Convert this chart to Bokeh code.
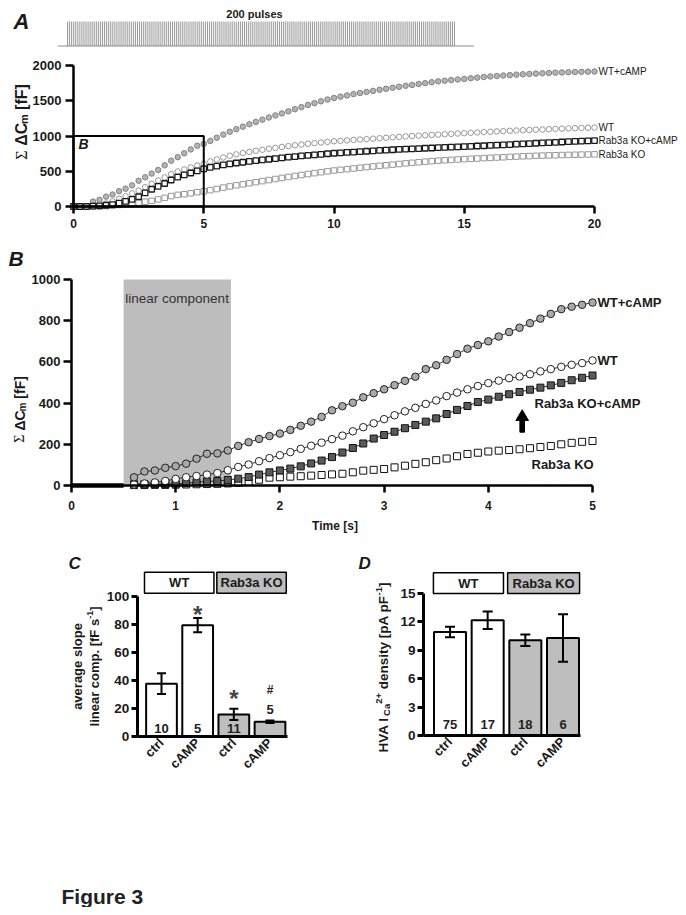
import math
import numpy as np
from bokeh.plotting import figure
from bokeh.models import Range1d, LinearAxis, FixedTicker, ColumnDataSource, Whisker, TeeHead, Spacer
from bokeh.layouts import column, row
from bokeh.embed import file_html
from bokeh.resources import INLINE
from bokeh.core.properties import value

FONT = "Liberation Sans"

# ---------------- data ----------------
n_pulses = 200
pulse_pad = (5, 10)

series_names = ["WT+cAMP", "WT", "Rab3a KO+cAMP", "Rab3a KO"]

# Panel A: cumulative capacitance, sampled every 0.25 s (0..20 s)
t_a = np.round(np.arange(0, 20.001, 0.25), 2)
a_wt_camp = [0, 0, 0, 70, 94, 140, 170, 218, 252, 300, 365, 415, 467, 518, 584, 650, 700, 755, 810, 862, 888,
             930, 975, 1020, 1060, 1097, 1132, 1167, 1200, 1232, 1262, 1292, 1320, 1350, 1380, 1410, 1440, 1466, 1492, 1517, 1540,
             1558, 1576, 1594, 1610, 1625, 1640, 1655, 1670, 1684, 1698, 1712, 1725, 1738, 1750, 1763, 1775, 1784, 1793, 1802, 1810,
             1819, 1828, 1837, 1845, 1851, 1858, 1864, 1870, 1875, 1880, 1885, 1890, 1894, 1898, 1901, 1905, 1908, 1910, 1913, 1915]
a_wt = [0, 0, 0, 12, 32, 43, 74, 110, 147, 186, 225, 273, 322, 368, 413, 459, 497, 525, 554, 581, 607,
        640, 668, 695, 720, 740, 758, 775, 790, 805, 819, 832, 845, 857, 868, 879, 890, 899, 908, 917, 925,
        931, 938, 944, 950, 956, 962, 969, 975, 981, 988, 994, 1000, 1005, 1010, 1015, 1020, 1025, 1030, 1035, 1040,
        1045, 1050, 1055, 1060, 1065, 1069, 1074, 1078, 1082, 1085, 1089, 1092, 1096, 1100, 1104, 1108, 1111, 1114, 1117, 1120]
a_ko_camp = [0, 0, 0, 6, 9, 18, 27, 47, 73, 100, 138, 193, 245, 286, 326, 376, 417, 448, 475, 504, 534,
             555, 574, 590, 605, 617, 628, 639, 650, 660, 670, 680, 690, 699, 708, 717, 725, 733, 740, 748, 755,
             761, 767, 772, 778, 784, 789, 795, 800, 805, 809, 814, 818, 822, 826, 830, 834, 838, 842, 846, 850,
             854, 858, 862, 866, 870, 875, 879, 884, 888, 893, 897, 902, 906, 910, 915, 919, 923, 927, 931, 935]
a_ko = [0, 0, 0, 2, 4, 6, 10, 22, 40, 47, 54, 68, 80, 101, 123, 148, 165, 174, 187, 204, 216,
        232, 248, 268, 285, 300, 315, 330, 345, 360, 375, 390, 405, 419, 433, 447, 460, 473, 486, 498, 510,
        520, 530, 540, 550, 559, 568, 577, 585, 594, 603, 612, 620, 628, 636, 643, 650, 656, 661, 667, 672,
        677, 681, 686, 690, 695, 699, 704, 708, 712, 715, 719, 722, 725, 727, 730, 732, 734, 736, 738, 740]
a_ticks_x = [0, 5, 10, 15, 20]
a_ticks_y = [0, 500, 1000, 1500, 2000]

# Panel B: first 5 s, sampled every 0.1 s from 0.6 s
t_b = np.round(np.arange(0.6, 5.001, 0.1), 1)
b_pre_t = [0.0, 0.5]
b_pre_v = [0, 0]
b_wt_camp = [40, 68, 73, 86, 94, 106, 130, 154, 156, 170, 192, 210, 226, 240, 252, 270, 290, 310, 333, 365,
             385, 402, 428, 448, 467, 487, 508, 528, 565, 584, 610, 638, 664, 682, 700, 723, 745, 766, 788, 810,
             833, 856, 868, 877, 888]
b_wt = [5, 10, 15, 22, 32, 40, 46, 53, 60, 74, 90, 102, 118, 133, 147, 162, 178, 193, 208, 225,
        242, 263, 283, 302, 322, 341, 360, 377, 396, 413, 434, 451, 467, 483, 497, 509, 521, 529, 540, 554,
        565, 576, 586, 594, 607]
b_ko_camp = [6, 6, 7, 7, 9, 11, 16, 20, 22, 27, 33, 41, 53, 64, 73, 82, 93, 107, 121, 138,
             160, 182, 204, 228, 245, 261, 278, 294, 310, 326, 347, 367, 386, 405, 417, 431, 443, 454, 465, 475,
             486, 498, 511, 523, 534]
b_ko = [2, 2, 3, 3, 4, 5, 6, 7, 8, 10, 13, 17, 28, 38, 40, 43, 45, 48, 51, 54,
        57, 64, 72, 76, 80, 88, 96, 105, 113, 123, 131, 142, 153, 159, 165, 169, 172, 176, 181, 187,
        192, 200, 207, 212, 216]
linear_window = (0.5, 1.53)
b_xlim = (0, 5)
b_ylim = (0, 1000)
b_ticks_x = [0, 1, 2, 3, 4, 5]
b_ticks_y = [0, 200, 400, 600, 800, 1000]

# Panels C and D
bar_x = [1, 2, 3, 4]
bar_cats = ["ctrl", "cAMP", "ctrl", "cAMP"]
bar_fill = ["white", "white", "#bebebe", "#bebebe"]
groups = ["WT", "Rab3a KO"]
group_fill = ["white", "#bebebe"]

c_mean = [37.7, 79.5, 15.8, 10.5]
c_sem = [7.4, 5.1, 4.0, 0.9]
c_n = ["10", "5", "11", "5"]
c_n_y = [5.7, 5.7, 5.7, 19.3]
c_sig = ["*", "*", "#"]
c_sig_x = [2, 3, 4]
c_sig_y = [87.0, 27.4, 32.9]
c_ticks_y = [0, 20, 40, 60, 80, 100]

d_mean = [10.94, 12.18, 10.06, 10.3]
d_sem = [0.56, 0.92, 0.6, 2.5]
d_n = ["75", "17", "18", "6"]
d_n_y = [1.2, 1.2, 1.2, 1.2]
d_ticks_y = [0, 3, 6, 9, 12, 15]

# ---------------- helpers ----------------
BW = {' ': 278, '#': 556, '*': 389, '+': 584, ',': 278, '-': 333, '.': 278, '[': 333, ']': 333,
      'A': 722, 'C': 722, 'D': 722, 'F': 611, 'H': 722, 'I': 278, 'K': 722, 'M': 833, 'O': 778,
      'P': 667, 'R': 722, 'T': 611, 'V': 667, 'W': 944,
      'a': 556, 'b': 611, 'c': 556, 'd': 611, 'e': 556, 'f': 333, 'g': 611, 'i': 278, 'l': 278,
      'm': 889, 'n': 611, 'o': 611, 'p': 611, 'r': 389, 's': 556, 't': 333, 'u': 611, 'v': 556,
      'y': 556, 'Δ': 640, 'Σ': 600}


def text_w(s, size):
    return sum(BW.get(c, 556) for c in s) * size / 1000.0


def xrange_(v1, p1, v2, p2, W):
    s = (p2 - p1) / (v2 - v1)
    a = v1 - p1 / s
    return Range1d(a, a + W / s)


def yrange_(v1, p1, v2, p2, H):
    s = (p1 - p2) / (v2 - v1)
    e = v1 + p1 / s
    return Range1d(e - H / s, e)


def make_fig(W, H, xr, yr, extra_x=None, extra_y=None):
    p = figure(width=W, height=H, x_range=xr, y_range=yr, x_axis_type=None, y_axis_type=None,
               toolbar_location=None, output_backend="svg", min_border=0,
               outline_line_color=None, background_fill_color="white", border_fill_color="white")
    ex = {"px": Range1d(0, W)}
    ey = {"px": Range1d(0, H)}
    if extra_x:
        ex.update(extra_x)
    if extra_y:
        ey.update(extra_y)
    p.extra_x_ranges = ex
    p.extra_y_ranges = ey
    return p


def ptext(p, x, y, txt, size, style="bold", color="#1a1a1a", align="left", baseline="middle",
          angle=0.0, font=FONT):
    p.text(x=[x], y=[p.height - y], text=[txt], x_range_name="px", y_range_name="px",
           text_font=value(font), text_font_size=f"{size}px", text_font_style=style,
           text_color=color, text_align=align, text_baseline=baseline, angle=angle)


def vlabel(p, x_base, y_center, pieces, color="#1a1a1a"):
    # pieces: (text, size, style, font, shift_px, gap_before_px)
    total = sum(text_w(t, sz) + gap for (t, sz, st, fn, sh, gap) in pieces)
    y0 = (p.height - y_center) - total / 2.0
    cum = 0.0
    for (t, sz, st, fn, sh, gap) in pieces:
        cum += gap
        p.text(x=[x_base + sh], y=[y0 + cum], text=[t], x_range_name="px", y_range_name="px",
               text_font=value(fn), text_font_size=f"{sz}px", text_font_style=st,
               text_color=color, text_align="left", text_baseline="alphabetic", angle=math.pi / 2)
        cum += text_w(t, sz)


def style_axis(ax, size, tick_out, standoff, lw=2.5):
    ax.axis_line_width = lw
    ax.axis_line_color = "black"
    ax.major_tick_line_width = lw
    ax.major_tick_line_color = "black"
    ax.major_tick_out = tick_out
    ax.major_tick_in = 0
    ax.minor_tick_line_color = None
    ax.major_label_text_font = FONT
    ax.major_label_text_font_style = "bold"
    ax.major_label_text_font_size = f"{size}px"
    ax.major_label_text_color = "#1a1a1a"
    ax.major_label_standoff = standoff


# ---------------- Panel A ----------------
WA, HA = 678, 232
pA = make_fig(WA, HA, xrange_(0, 65, 20, 586, WA), yrange_(0, 198, 2000, 57, HA),
              extra_x={"pulse": xrange_(1, 59, n_pulses, 446, WA)},
              extra_y={"stim": yrange_(0, 37.5, 1, 13, HA)})

pulse_idx = np.arange(1, n_pulses + 1)
pA.segment(x0=pulse_idx, y0=0, x1=pulse_idx, y1=1, x_range_name="pulse", y_range_name="stim",
           line_color="#9a9a9a", line_width=1)
pA.line(x=[1 - pulse_pad[0], n_pulses + pulse_pad[1]], y=[0, 0], x_range_name="pulse",
        y_range_name="stim", line_color="#8a8a8a", line_width=1)
ptext(pA, 246, 5, f"{n_pulses} pulses", 11, align="center")
ptext(pA, 5, 13, "A", 22, style="bold italic")

a_series = [a_wt_camp, a_wt, a_ko, a_ko_camp]
a_style = [dict(marker="circle", fill_color="#b3b3b3", line_color="#7a7a7a", line_width=0.9),
           dict(marker="circle", fill_color="white", line_color="#8c8c8c", line_width=0.9),
           dict(marker="square", fill_color="white", line_color="#8c8c8c", line_width=0.9),
           dict(marker="square", fill_color="white", line_color="#1a1a1a", line_width=1.3)]
for vals, st in zip(a_series, a_style):
    pA.scatter(t_a, vals, size=5.5, **st)

# inset marker for panel B
pA.quad(left=[b_xlim[0]], right=[b_xlim[1]], bottom=[b_ylim[0]], top=[b_ylim[1]],
        fill_color=None, line_color="black", line_width=2)
ptext(pA, 70, 135, "B", 14, style="bold italic")

a_last = [a_wt_camp[-1], a_wt[-1], a_ko_camp[-1], a_ko[-1]]
pA.text(x=[t_a[-1]] * 4, y=a_last, text=series_names, x_offset=4, text_baseline="middle",
        text_font=value(FONT), text_font_size="10px", text_color="#1a1a1a")

axA_x = LinearAxis(fixed_location=0, bounds=(a_ticks_x[0], a_ticks_x[-1]),
                   ticker=FixedTicker(ticks=a_ticks_x))
style_axis(axA_x, 12, 7, 5)
pA.add_layout(axA_x, "below")
axA_y = LinearAxis(fixed_location=0, bounds=(a_ticks_y[0], a_ticks_y[-1]),
                   ticker=FixedTicker(ticks=a_ticks_y))
style_axis(axA_y, 13, 8, 4)
pA.add_layout(axA_y, "left")

vlabel(pA, 12.5, 113.5, [("Σ", 16, "normal", "Liberation Serif", 0, 0),
                         ("ΔC", 16, "bold", FONT, 0, 4.4),
                         ("m", 11, "bold", FONT, 3, 0),
                         ("[fF]", 16, "bold", FONT, 0, 4.4)])

# ---------------- Panel B ----------------
WB, HB = 678, 305
pB = make_fig(WB, HB, xrange_(0, 63, 5, 584, WB), yrange_(0, 245, 1000, 39, HB))
ptext(pB, 0, 17.5, "B", 21, style="bold italic")

pB.quad(left=[linear_window[0]], right=[linear_window[1]], bottom=[b_ylim[0]], top=[b_ylim[1]],
        fill_color="#bdbdbd", line_color=None)
ptext(pB, 168.6, 58, "linear component", 13.5, style="normal", color="#333333", align="center")

pB.line(b_pre_t, b_pre_v, line_color="black", line_width=4.5)

b_series = [b_ko, b_ko_camp, b_wt, b_wt_camp]
b_style = [dict(marker="square", fill_color="white", line_color="#111111", size=7),
           dict(marker="square", fill_color="#5a5a5a", line_color="#111111", size=7),
           dict(marker="circle", fill_color="white", line_color="#222222", size=7.5),
           dict(marker="circle", fill_color="#a9a9a9", line_color="#222222", size=7.5)]
for i, (vals, st) in enumerate(zip(b_series, b_style)):
    if i > 0:
        pB.line(t_b, vals, line_color="black", line_width=0.8)
    pB.scatter(t_b, vals, line_width=1, **st)

pB.text(x=[t_b[-1]] * 2, y=[b_wt_camp[-1], b_wt[-1]], text=series_names[:2], x_offset=5,
        text_baseline="middle", text_font=value(FONT), text_font_size="13px",
        text_font_style="bold", text_color="#1a1a1a")
ptext(pB, 526, 162.7, series_names[2], 13)
ptext(pB, 523, 224, series_names[3], 13)
# arrow pointing up to the KO+cAMP trace
ax_c, tip, hb, bot = 513.7, 169.3, 180.0, 191.7
pB.patch(x=[ax_c - 2.3, ax_c + 2.3, ax_c + 2.3, ax_c + 6.3, ax_c, ax_c - 6.3, ax_c - 2.3],
         y=[HB - bot, HB - bot, HB - hb, HB - hb, HB - tip, HB - hb, HB - hb],
         x_range_name="px", y_range_name="px", fill_color="black", line_color="black")

axB_x = LinearAxis(fixed_location=0, bounds=b_xlim, ticker=FixedTicker(ticks=b_ticks_x))
style_axis(axB_x, 12, 7, 8)
pB.add_layout(axB_x, "below")
axB_y = LinearAxis(fixed_location=0, bounds=b_ylim, ticker=FixedTicker(ticks=b_ticks_y))
style_axis(axB_y, 13, 8, 3)
pB.add_layout(axB_y, "left")
ptext(pB, 326.5, 285, "Time [s]", 12, align="center")
vlabel(pB, 11, 169, [("Σ", 14, "normal", "Liberation Serif", 0, 0),
                     ("ΔC", 14, "bold", FONT, 0, 3.9),
                     ("m", 10, "bold", FONT, 2.5, 0),
                     ("[fF]", 14, "bold", FONT, 0, 3.9)])


# ---------------- Panels C and D ----------------
def bar_panel(W, H, xr, yr, means, sems, ns, n_y, ticks_y, ymax, box_l, box_r, box_b, box_t,
              y_loc, x_end, cap):
    p = make_fig(W, H, xr, yr)
    p.quad(left=box_l, right=box_r, bottom=[box_b] * 2, top=[box_t] * 2,
           fill_color=group_fill, line_color="black", line_width=1.5)
    p.text(x=[(l + r) / 2 for l, r in zip(box_l, box_r)], y=[(box_b + box_t) / 2] * 2, text=groups,
           text_align="center", text_baseline="middle", text_font=value(FONT),
           text_font_size="13px", text_font_style="bold", text_color="#1a1a1a")
    p.vbar(x=bar_x, top=means, width=0.85, bottom=0, fill_color=bar_fill, line_color="black",
           line_width=2)
    src = ColumnDataSource(dict(x=bar_x, upper=[m + s for m, s in zip(means, sems)],
                                lower=[m - s for m, s in zip(means, sems)]))
    w = Whisker(source=src, base="x", upper="upper", lower="lower", dimension="height",
                line_color="black", line_width=2, level="overlay",
                upper_head=TeeHead(size=cap, line_width=2, line_color="black"),
                lower_head=TeeHead(size=cap, line_width=2, line_color="black"))
    p.add_layout(w)
    p.text(x=bar_x, y=n_y, text=ns, text_align="center", text_baseline="middle",
           text_font=value(FONT), text_font_size="13px", text_font_style="bold",
           text_color="#222222")
    axx = LinearAxis(fixed_location=0, bounds=(y_loc, x_end), ticker=FixedTicker(ticks=bar_x),
                     major_label_overrides={x: c for x, c in zip(bar_x, bar_cats)},
                     major_label_orientation=math.pi / 4)
    style_axis(axx, 13, 0, 4, lw=3)
    axx.major_tick_line_color = None
    p.add_layout(axx, "below")
    axy = LinearAxis(fixed_location=y_loc, bounds=(0, ymax), ticker=FixedTicker(ticks=ticks_y))
    style_axis(axy, 13.5, 6, 2, lw=3)
    p.add_layout(axy, "left")
    return p


WC, HC = 335, 362
pC = bar_panel(WC, HC, xrange_(1, 153, 4, 261.5, WC), yrange_(0, 191, 100, 51, HC),
               c_mean, c_sem, c_n, c_n_y, c_ticks_y, 100,
               [0.53, 2.53], [2.45, 4.45], 102.4, 117.4, 0.33, 4.48, 9)
pC.text(x=c_sig_x[:2], y=c_sig_y[:2], text=c_sig[:2], text_align="center", text_baseline="middle",
        text_font=value(FONT), text_font_size="24px", text_font_style="bold", text_color="#444444")
pC.text(x=c_sig_x[2:], y=c_sig_y[2:], text=c_sig[2:], text_align="center", text_baseline="middle",
        text_font=value(FONT), text_font_size="12px", text_font_style="bold", text_color="#222222")
ptext(pC, 60, 17.5, "C", 17, style="bold italic")
vlabel(pC, 69, 121, [("average slope", 13, "bold", FONT, 0, 0)])
vlabel(pC, 86, 121, [("linear comp. [fF s", 13, "bold", FONT, 0, 0),
                     ("-1", 9, "bold", FONT, -5, 0),
                     ("]", 13, "bold", FONT, 0, 0)])
ptext(pC, 53, 351, "Figure 3", 21, color="#222222")

WD, HD = 343, 362
pD = bar_panel(WD, HD, xrange_(1, 106.5, 4, 219.5, WD), yrange_(0, 190, 15, 48, HD),
               d_mean, d_sem, d_n, d_n_y, d_ticks_y, 15,
               [0.56, 2.53], [2.42, 4.44], 15.0, 17.2, 0.297, 4.46, 10)
ptext(pD, 15, 17.5, "D", 17, style="bold italic")
vlabel(pD, 40, 122, [("HVA I", 13.5, "bold", FONT, 0, 0),
                     ("Ca", 9.5, "bold", FONT, 2.5, 0.5),
                     ("2+", 9.5, "bold", FONT, -5, 0),
                     ("density [pA pF", 13.5, "bold", FONT, 0, 3.8),
                     ("-1", 9.5, "bold", FONT, -5, 0),
                     ("]", 13.5, "bold", FONT, 0, 0)])

content = column(pA, pB, row(pC, pD))
layout = column(Spacer(height=8), row(Spacer(width=8), content))
open("out.html", "w").write(file_html(layout, INLINE))
